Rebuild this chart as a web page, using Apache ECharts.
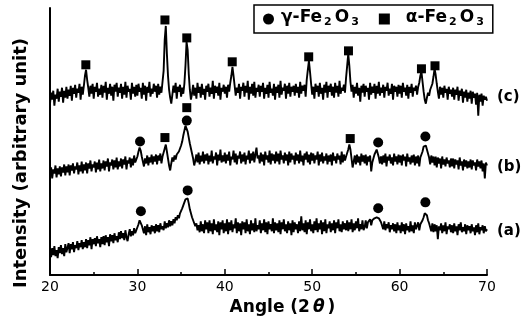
<!DOCTYPE html>
<html>
<head>
<meta charset="utf-8">
<script src="https://cdn.jsdelivr.net/npm/echarts@6/dist/echarts.min.js"></script>
<style>html,body{margin:0;padding:0;background:#fff}#chart{width:530px;height:321px}</style>
</head>
<body>
<div id="chart"></div>
<script>
// Angle grid of the scans (2θ, degrees)
const angleStart = 20;
const angleStep = 0.125;
const xTickMin = 20, xTickMax = 70, xTickStep = 10;

// Sample (c) intensity (arbitrary units, offset trace), one row = 2 degrees
const seriesC = [
172,183,176,185,170,181,177,187,174,184,179,188,173,185,178,189,
177,186,180,190,175,188,182,191,178,187,183,192,176,189,181,190,
200,206,196,188,179,190,182,192,177,189,184,193,179,187,181,191,
178,190,183,194,176,188,182,192,180,189,175,191,184,193,179,188,
183,192,177,189,181,194,178,190,184,187,176,193,182,189,179,191,
180,192,184,188,177,193,181,190,175,189,183,194,179,187,182,192,
184,190,178,192,181,189,183,194,205,236,250,222,200,186,178,172,
181,190,183,193,177,189,184,191,179,188,182,192,210,234,226,202,
186,176,182,191,180,188,177,193,183,189,178,192,181,187,176,190,
184,192,179,188,182,195,177,190,183,189,180,193,176,188,184,191,
182,189,178,191,184,193,200,209,200,190,180,188,183,192,177,189,
185,193,179,190,183,195,176,189,182,192,180,194,178,188,184,191,
179,190,184,193,177,188,182,191,178,194,183,187,180,192,176,189,
183,191,178,195,181,188,185,192,177,190,182,193,179,189,184,190,
180,192,183,189,178,194,182,190,185,191,179,196,206,215,204,192,
181,189,177,192,184,190,179,193,182,188,176,191,183,194,178,190,
184,192,180,189,178,193,183,190,179,195,182,188,185,191,183,198,
210,222,210,194,184,191,178,189,182,193,180,188,174,190,183,192,
179,190,184,188,176,193,181,189,183,192,177,190,182,194,180,188,
183,191,178,189,185,193,180,187,182,192,176,190,184,189,179,191,
182,190,178,193,184,188,180,191,177,189,183,192,179,188,185,190,
181,189,193,200,204,194,184,176,172,178,183,180,186,184,192,199,
207,201,192,184,177,189,181,188,178,190,183,187,176,189,182,186,
179,188,176,186,181,189,175,185,180,187,173,184,178,186,174,183,
177,185,172,184,178,182,171,183,160,181,174,182,170,180,176,179,
175
];
// Sample (b)
const seriesB = [
100,108,97,106,102,110,98,107,101,109,99,108,103,111,100,109,
103,111,100,110,105,112,102,109,106,113,101,110,104,114,102,111,
105,113,102,112,107,115,104,111,108,114,103,113,106,116,104,112,
107,115,105,114,109,117,104,113,110,116,106,115,108,118,106,114,
109,117,107,116,111,119,106,115,112,118,108,117,110,120,113,116,
119,124,128,125,119,114,109,117,112,120,110,118,113,121,111,119,
114,121,111,120,115,122,112,119,121,127,131,124,117,110,105,112,
118,114,120,116,121,119,124,122,130,134,140,145,150,149,144,138,
132,127,122,117,110,115,121,113,123,111,120,114,124,112,121,115,
122,111,120,114,125,112,119,116,123,110,121,115,126,113,120,114,
123,112,121,115,124,110,119,116,125,113,122,111,120,117,124,112,
121,114,123,111,120,116,125,112,122,115,124,113,121,128,117,120,
112,123,114,121,110,124,116,120,113,125,111,122,115,121,112,124,
114,122,111,125,116,120,112,123,115,121,110,124,113,122,116,120,
111,123,115,121,112,125,114,120,110,122,116,124,113,121,111,123,
115,122,112,120,116,124,110,121,114,123,112,119,115,122,111,120,
114,121,110,123,115,119,112,122,116,120,111,124,113,121,115,119,
121,126,131,126,117,108,114,120,111,121,113,119,110,122,114,120,
112,121,110,119,114,120,104,113,117,121,123,126,124,118,112,119,
111,120,113,122,109,119,115,121,112,118,110,122,114,119,111,121,
113,120,110,121,115,119,109,122,114,118,111,120,113,121,110,119,
112,120,109,118,119,124,129,131,130,126,122,118,111,120,113,119,
110,119,108,118,112,117,107,119,111,116,109,118,112,115,108,117,
109,117,107,116,111,115,106,118,110,114,105,116,109,115,107,114,
108,116,106,115,110,113,105,116,109,114,107,115,104,112,97,113,
110
];
// Sample (a)
const seriesA = [
26,18,27,20,29,19,25,17,28,22,30,21,27,19,31,23,
24,32,22,31,26,33,23,30,27,34,25,32,28,35,26,33,
28,36,27,35,30,38,26,36,31,37,29,39,32,36,28,38,
31,39,30,40,33,38,29,41,34,40,32,42,35,39,33,43,
36,44,37,42,35,45,38,34,41,46,39,44,40,47,42,45,
47,51,55,54,50,46,42,49,40,51,43,48,41,50,44,49,
42,51,44,50,43,52,46,49,45,54,47,52,48,55,49,54,
50,56,52,58,55,60,57,62,64,67,70,73,76,78,77,72,
66,62,58,55,53,49,52,45,50,43,54,44,51,42,55,46,
53,42,55,44,52,41,56,45,51,43,54,40,53,46,55,42,
52,44,56,41,53,45,55,43,51,47,57,42,53,44,52,40,
54,46,53,42,56,44,51,41,55,45,52,43,57,44,50,46,
55,42,52,45,56,43,53,41,54,46,51,44,57,42,53,45,
52,43,55,41,53,46,56,44,51,42,54,45,52,40,55,43,
53,46,51,42,54,44,59,45,52,43,55,41,53,46,56,44,
51,42,54,45,57,43,52,46,55,41,53,44,56,42,51,47,
54,43,52,45,55,42,53,47,56,44,51,43,54,46,52,45,
55,44,53,46,56,43,52,45,54,47,57,44,51,46,55,45,
48,55,47,53,51,56,50,55,54,57,56,58,59,57,55,53,
52,46,54,45,51,47,53,43,50,46,52,44,51,42,53,45,
50,42,53,44,51,41,52,45,49,43,54,44,50,42,53,46,
48,53,45,51,52,55,58,62,64,60,55,52,50,44,52,43,
51,44,50,36,49,45,52,42,50,44,53,41,49,46,51,43,
50,42,52,44,49,40,51,45,53,43,48,44,51,41,50,45,
49,42,51,44,48,40,50,43,52,41,48,45,50,42,49,44,
46
];
// Phase markers [angle, intensity]
const gammaMarks = [[30.3,134],[35.65,155],[57.55,133],[62.95,139],[30.4,64],[35.75,85],[57.55,67],[62.95,73]];
const alphaMarks = [[24.1,211],[33.15,256],[35.65,238],[40.85,214],[49.6,219],[54.15,225],[62.5,207],[64.05,210],[33.15,138],[35.65,168],[54.35,137]];
const traceLabels = ['(c)','(b)','(a)'];
const traceLabelLevels = [97,167,231];
const gammaName = 'γ-Fe2O3', alphaName = 'α-Fe2O3';

const toPairs = arr => arr.map((v, i) => [angleStart + i * angleStep, v]);
const FONT = 'DejaVu Sans';
const chart = echarts.init(document.getElementById('chart'), null, {renderer: 'canvas'});

const lineSeries = (name, data) => ({
  name, type: 'line', data: toPairs(data), symbol: 'none', silent: true, sampling: null,
  lineStyle: {color: '#000', width: 1.9, opacity: 1}, z: 2
});

chart.setOption({
  animation: false,
  backgroundColor: '#fff',
  grid: {left: 50, right: 43, top: 8, bottom: 45},
  legend: {
    data: [gammaName, alphaName],
    left: 254, top: 5,
    orient: 'horizontal',
    selectedMode: false,
    borderColor: '#000', borderWidth: 1.5,
    padding: [4, 8, 4, 9],
    itemGap: 19, itemWidth: 11, itemHeight: 11,
    formatter: n => (n === gammaName ? '{g|γ-Fe}{s|2}{n|O}{s|3}' : '{a|α-Fe}{s|2}{n|O}{s|3}'),
    textStyle: {
      color: '#000',
      rich: {
        g: {fontFamily: FONT, fontWeight: 'bold', fontSize: 17, lineHeight: 18, padding: [0, 1, 3, 2], color: '#000'},
        a: {fontFamily: FONT, fontWeight: 'bold', fontSize: 17, lineHeight: 18, padding: [0, 1, 3, 11], color: '#000'},
        n: {fontFamily: FONT, fontWeight: 'bold', fontSize: 17, lineHeight: 18, padding: [0, 1, 3, 2], color: '#000'},
        s: {fontFamily: FONT, fontWeight: 'bold', fontSize: 11, lineHeight: 11, verticalAlign: 'bottom', color: '#000', padding: [0, 1, 0, 1]}
      }
    }
  },
  xAxis: {
    type: 'value', min: xTickMin, max: xTickMax, interval: xTickStep,
    name: 'Angle (2{t|θ})',
    nameLocation: 'middle', nameGap: 20,
    nameTextStyle: {
      fontFamily: FONT, fontWeight: 'bold', fontSize: 17, color: '#000', padding: [0, 0, 0, 28],
      rich: {t: {fontFamily: FONT, fontWeight: 'bold', fontStyle: 'italic', fontSize: 17, color: '#000', padding: [0, 3, 0, 3]}}
    },
    axisLine: {show: true, lineStyle: {color: '#000', width: 2}},
    axisTick: {show: true, inside: true, length: 6, lineStyle: {color: '#000', width: 1.5}},
    minorTick: {show: true, splitNumber: 2, length: 3, lineStyle: {color: '#000', width: 1.5}},
    axisLabel: {color: '#000', fontFamily: FONT, fontSize: 14, margin: 5},
    splitLine: {show: false}, minorSplitLine: {show: false}
  },
  yAxis: {
    type: 'value', min: 0, max: 268,
    axisLine: {show: true, onZero: false, lineStyle: {color: '#000', width: 2}},
    axisTick: {show: false}, axisLabel: {show: false}, splitLine: {show: false}
  },
  graphic: [
    {type: 'text', x: 21, y: 163, rotation: Math.PI / 2,
     style: {text: 'Intensity (arbitrary unit)', fontFamily: FONT, fontWeight: 'bold', fontSize: 18, fill: '#000', align: 'center', verticalAlign: 'middle'}},
    ...traceLabels.map((t, k) => ({type: 'text', x: 497, y: traceLabelLevels[k],
     style: {text: t, fontFamily: FONT, fontWeight: 'bold', fontSize: 15, fill: '#000', align: 'left', verticalAlign: 'middle'}}))
  ],
  series: [
    lineSeries('c', seriesC),
    lineSeries('b', seriesB),
    lineSeries('a', seriesA),
    {name: gammaName, type: 'scatter', data: gammaMarks, symbol: 'circle', symbolSize: 10, itemStyle: {color: '#000', opacity: 1}, z: 5, silent: true},
    {name: alphaName, type: 'scatter', data: alphaMarks, symbol: 'rect', symbolSize: 9, itemStyle: {color: '#000', opacity: 1}, z: 5, silent: true}
  ]
});
</script>
</body>
</html>
